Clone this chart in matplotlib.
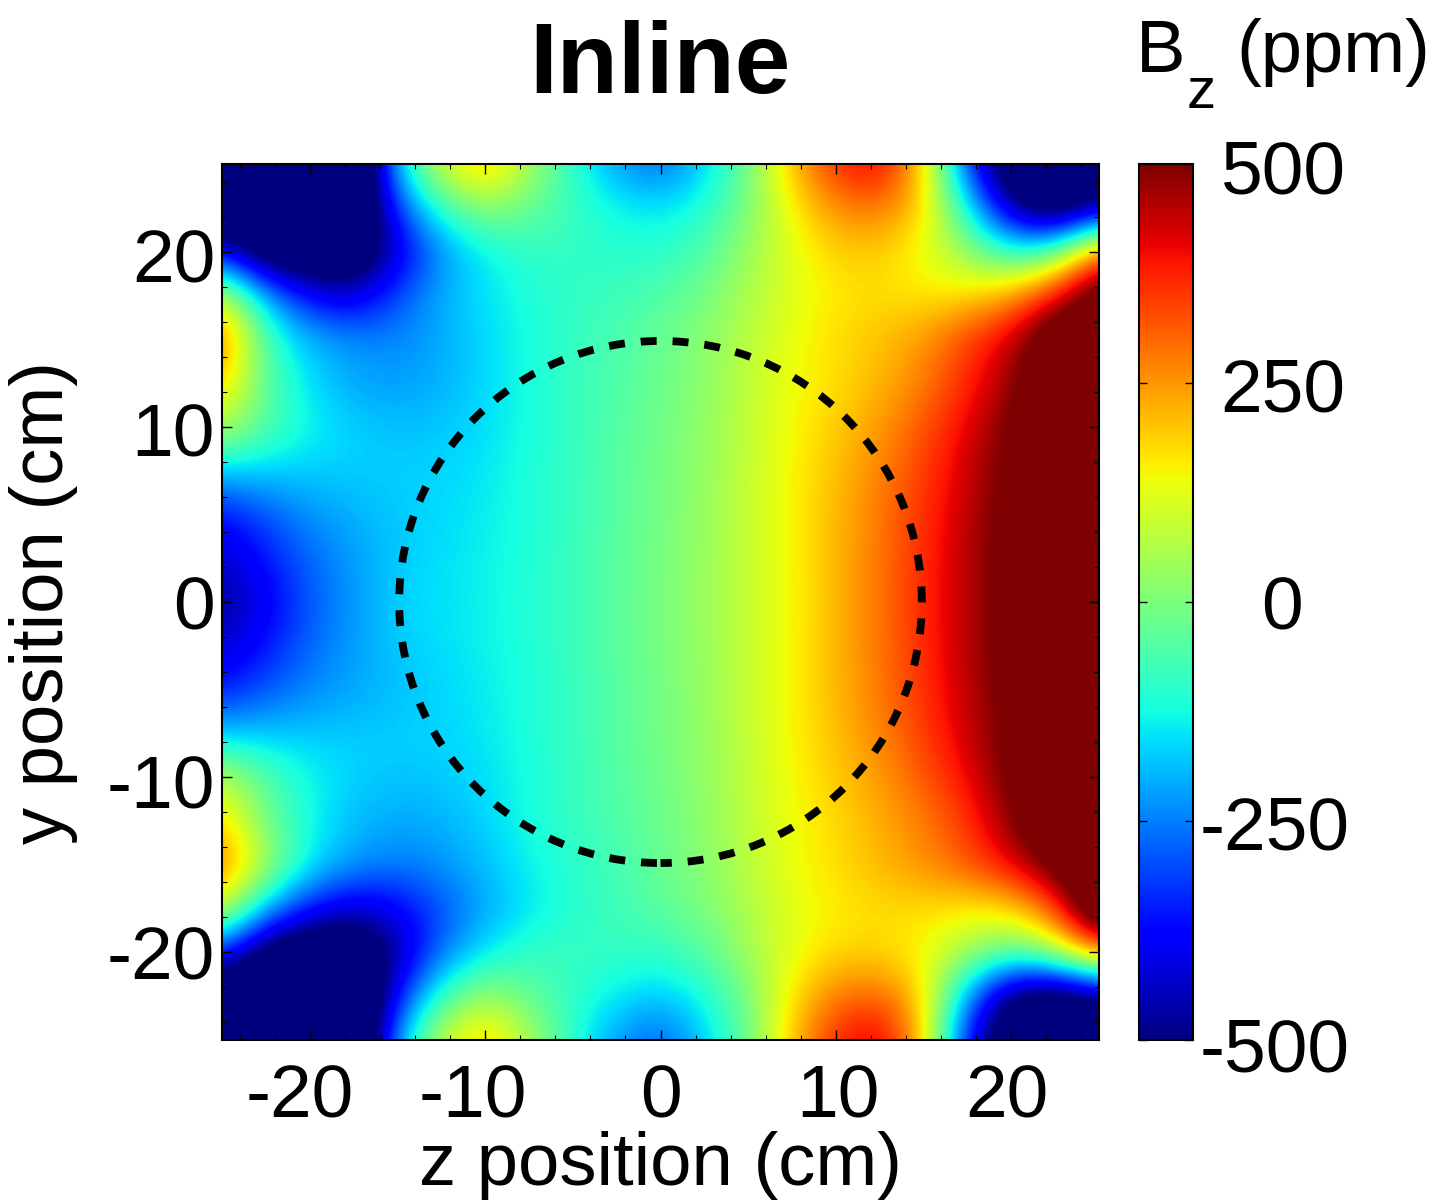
import matplotlib
matplotlib.use("Agg")
import matplotlib.pyplot as plt
from matplotlib.patches import Circle
from matplotlib.ticker import MultipleLocator
from matplotlib.transforms import Affine2D
import numpy as np

plt.rcParams['font.family'] = ['Liberation Sans', 'DejaVu Sans']
plt.rcParams['axes.unicode_minus'] = False

# field values, ppm, every 2.5 cm (the colour scale saturates at +-500)
z_pos = [-25, -22.5, -20, -17.5, -15, -12.5, -10, -7.5, -5, -2.5, 0, 2.5, 5, 7.5, 10, 12.5, 15, 17.5, 20, 22.5, 25]
y_pos = [25, 22.5, 20, 17.5, 15, 12.5, 10, 7.5, 5, 2.5, 0, -2.5, -5, -7.5, -10, -12.5, -15, -17.5, -20, -22.5, -25]

bz_y_p25_0 = [-700, -700, -700, -800, -150, 110, 230, 60, -100, -220, -280, -170, -20, 210, 370, 420, 200, -320, -650, -650, -600]
bz_y_p22_5 = [-700, -700, -700, -750, -300, -90, 30, -30, -80, -130, -150, -110, 0, 150, 260, 290, 190, -120, -480, -650, -500]
bz_y_p20_0 = [-380, -620, -650, -650, -430, -230, -140, -90, -90, -100, -100, -60, 40, 120, 190, 190, 130, 30, -110, -50, 320]
bz_y_p17_5 = [120, -200, -380, -430, -300, -200, -150, -115, -90, -80, -50, -10, 60, 120, 160, 175, 160, 175, 240, 400, 600]
bz_y_p15_0 = [310, -70, -190, -230, -240, -210, -160, -120, -85, -60, -25, 15, 75, 135, 175, 205, 245, 345, 430, 620, 650]
bz_y_p12_5 = [200, -40, -160, -210, -220, -200, -160, -120, -85, -55, -20, 20, 80, 140, 170, 215, 275, 370, 470, 630, 650]
bz_y_p10_0 = [70, -50, -130, -170, -185, -180, -155, -120, -85, -50, -15, 25, 85, 145, 195, 245, 320, 410, 510, 640, 680]
bz_y_p07_5 = [-170, -170, -170, -170, -170, -165, -145, -115, -85, -45, -10, 30, 85, 150, 205, 270, 345, 430, 530, 640, 680]
bz_y_p05_0 = [-370, -290, -230, -200, -175, -160, -140, -115, -85, -45, -10, 30, 90, 150, 215, 280, 360, 440, 530, 640, 680]
bz_y_p02_5 = [-440, -360, -270, -220, -175, -155, -135, -112, -80, -42, -5, 35, 90, 148, 215, 285, 365, 450, 540, 620, 560]
bz_y_00_0 = [-480, -400, -290, -225, -165, -150, -135, -110, -80, -40, -5, 35, 90, 145, 215, 285, 370, 445, 540, 620, 450]
bz_y_m02_5 = [-440, -360, -270, -220, -175, -155, -135, -112, -80, -42, -5, 35, 90, 148, 215, 285, 365, 450, 540, 620, 560]
bz_y_m05_0 = [-350, -290, -240, -210, -185, -165, -140, -115, -85, -45, -10, 30, 90, 150, 215, 280, 360, 440, 530, 640, 680]
bz_y_m07_5 = [-180, -180, -175, -175, -170, -165, -145, -115, -85, -45, -10, 30, 85, 150, 205, 270, 345, 430, 530, 640, 680]
bz_y_m10_0 = [80, -50, -130, -165, -180, -175, -155, -120, -85, -50, -15, 25, 85, 145, 195, 245, 315, 400, 520, 640, 680]
bz_y_m12_5 = [190, -10, -130, -190, -210, -200, -165, -120, -85, -55, -20, 20, 80, 140, 175, 225, 275, 350, 490, 630, 650]
bz_y_m15_0 = [300, 60, -140, -220, -250, -230, -185, -135, -100, -70, -25, 15, 75, 135, 175, 215, 255, 320, 410, 550, 650]
bz_y_m17_5 = [120, -190, -360, -430, -390, -300, -210, -150, -105, -75, -40, 0, 60, 125, 155, 175, 175, 155, 175, 320, 700]
bz_y_m20_0 = [-320, -600, -650, -650, -480, -260, -150, -90, -80, -90, -90, -50, 50, 125, 180, 180, 140, 55, -40, 60, 300]
bz_y_m22_5 = [-700, -700, -700, -800, -350, -80, 50, -30, -95, -140, -180, -120, -10, 170, 280, 310, 190, -220, -560, -650, -550]
bz_y_m25_0 = [-700, -700, -700, -800, -200, 100, 220, 60, -100, -230, -290, -180, -20, 200, 380, 440, 210, -380, -650, -650, -600]

bz_rows = [bz_y_p25_0, bz_y_p22_5, bz_y_p20_0, bz_y_p17_5, bz_y_p15_0, bz_y_p12_5, bz_y_p10_0,
           bz_y_p07_5, bz_y_p05_0, bz_y_p02_5, bz_y_00_0, bz_y_m02_5, bz_y_m05_0, bz_y_m07_5,
           bz_y_m10_0, bz_y_m12_5, bz_y_m15_0, bz_y_m17_5, bz_y_m20_0, bz_y_m22_5, bz_y_m25_0]

cbar_ticks = [-500, -250, 0, 250, 500]
axis_ticks = [-20, -10, 0, 10, 20]
circle_radius = 14.9

W, H = 1433, 1202
fig = plt.figure(figsize=(W / 100, H / 100), dpi=100)
ax = fig.add_axes([222 / W, 1 - 1040 / H, 877 / W, 876 / H])
cax = fig.add_axes([1139 / W, 1 - 1040 / H, 54 / W, 876 / H])

half_step = (z_pos[1] - z_pos[0]) / 2
im = ax.imshow(np.array(bz_rows), cmap='jet', vmin=-500, vmax=500, interpolation='bicubic', aspect='auto',
               extent=[z_pos[0] - half_step, z_pos[-1] + half_step, y_pos[-1] - half_step, y_pos[0] + half_step])
ax.set_xlim(-25, 25)
ax.set_ylim(-25, 25)

ax.add_patch(Circle((0, 0), circle_radius, fill=False, edgecolor='black', linewidth=5.6, linestyle=(0.6, (2.05, 2.05))))

ax.set_xticks(axis_ticks)
ax.set_yticks(axis_ticks)
ax.xaxis.set_minor_locator(MultipleLocator(2))
ax.yaxis.set_minor_locator(MultipleLocator(2))
ax.tick_params(which='major', direction='in', top=True, right=True, length=7, width=1, labelsize=54)
ax.tick_params(axis='x', which='major', pad=17)
ax.tick_params(axis='y', which='major', pad=5)
ax.tick_params(which='minor', direction='in', top=True, right=True, length=3.5, width=0.8)
for s in ax.spines.values():
    s.set_linewidth(1.5)

ax.set_xlabel("z position (cm)", fontsize=53.5, labelpad=-1)
ax.set_ylabel("y position (cm)", fontsize=53.5, labelpad=21)

cb = fig.colorbar(im, cax=cax)
cb.set_ticks(cbar_ticks)
cb.set_ticklabels([str(t) for t in cbar_ticks])
cax.tick_params(direction='in', left=True, right=True, length=6, width=1, labelsize=54, pad=63)
for lab in cax.get_yticklabels():
    lab.set_ha('center')
cb.outline.set_linewidth(1.5)


# nudge a tick label by some pixels (the labels in the picture are not quite on their ticks)
def nudge(lab, dx, dy):
    lab.set_transform(lab.get_transform() + Affine2D().translate(dx, dy))


for lab, dx in zip(ax.get_xticklabels(), [-10, -12, 0, 2, -4]):
    nudge(lab, dx, 0)
for lab, dy in zip(ax.get_yticklabels(), [0, -4, 0, -3, -4]):
    nudge(lab, 0, dy)
for lab, dx, dy in zip(cax.get_yticklabels(), [-6, -6, 1, 2, 3], [-4, -2, 0, -2, -2]):
    nudge(lab, dx, dy)

fig.text(660 / W, 1 - 93 / H, "Inline", fontsize=72, fontweight='bold', ha='center', va='baseline')
fig.text(1136 / W, 1 - 72 / H, "B", fontsize=53.5, ha='left', va='baseline')
fig.text(1187 / W, 1 - 108 / H, "z", fontsize=42, ha='left', va='baseline')
fig.text(1236 / W, 1 - 72 / H, "(ppm)", fontsize=53.5, ha='left', va='baseline')

fig.savefig("out.png", dpi=100)
